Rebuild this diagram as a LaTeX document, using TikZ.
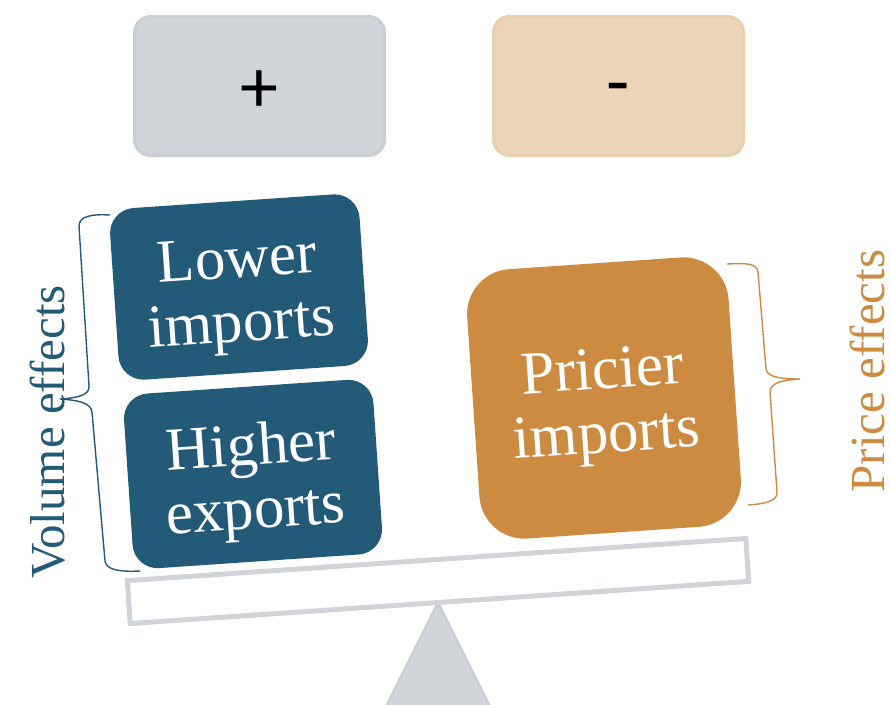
\documentclass[tikz,border=0pt]{standalone}
\usepackage{fontspec}
\setmainfont{Liberation Serif}
\newfontfamily\signfont{Carlito}
\definecolor{volblue}{HTML}{235A78}
\definecolor{priceorange}{HTML}{CD8B41}
\definecolor{plusfill}{HTML}{D0D4D9}
\definecolor{plusdraw}{HTML}{CACED3}
\definecolor{minusfill}{HTML}{ECD5B9}
\definecolor{minusdraw}{HTML}{E8CFAF}
\definecolor{beamgray}{HTML}{D0D4D9}
\newcommand{\lift}{\rule{0pt}{58pt}}
\begin{document}
\begin{tikzpicture}[x=1pt,y=-1pt,
  signbox/.style={rounded corners=16pt, minimum width=250pt, minimum height=139pt, line width=3pt, inner sep=0pt, text depth=0pt, font=\signfont\fontsize{76}{80}\selectfont},
  effectbox/.style={rotate=3.9, text=white, align=center, inner sep=0pt,
    font=\fontsize{61}{64}\selectfont},
  efflabel/.style={rotate=90, inner sep=0pt, font=\fontsize{49}{52}\selectfont},
  bracestyle/.style={line width=1.4pt}]
\useasboundingbox (0,0) rectangle (890,704);
\clip (0,0) rectangle (890,704);
% top sign boxes
\node[signbox, fill=plusfill, draw=plusdraw, text height=53pt] (plus) at (259.5,86) {+};
\node[signbox, fill=minusfill, draw=minusdraw, text height=42pt] (minus) at (618.5,86) {-};
% fulcrum and beam
\draw[fill=beamgray, draw=plusdraw, line width=2pt] (438,602) -- (369,740) -- (507,740) -- cycle;
\node[rotate=3.9, minimum width=620pt, minimum height=43pt, draw=beamgray, line width=5pt, fill=white, inner sep=0pt] (beam) at (438,581) {};
% effect boxes
\node[effectbox, fill=volblue, minimum width=250pt, minimum height=172pt, rounded corners=25pt] (lower) at (239,287) {\lift Lower\\imports};
\node[effectbox, fill=volblue, minimum width=250pt, minimum height=175pt, rounded corners=25pt] (higher) at (253,474) {\lift Higher\\exports};
\node[effectbox, fill=priceorange, minimum width=262pt, minimum height=270pt, rounded corners=45pt] (pricier) at (604,398) {\lift Pricier\\imports};
% braces
\draw[bracestyle, volblue] (110,215) .. controls (92,214) and (79,216) .. (79,226) -- (89,386) .. controls (90,396) and (75,398) .. (60,399) .. controls (75,400) and (91,402) .. (92,412) -- (105,561) .. controls (106,570) and (120,572) .. (140,571);
\draw[bracestyle, priceorange] (727,264) .. controls (745,263) and (757,263) .. (758,272) -- (766,369) .. controls (767,378) and (785,379) .. (800,379) .. controls (785,380) and (770,382) .. (770,392) -- (777,492) .. controls (778,502) and (762,504) .. (748,505);
% labels
\node[efflabel, text=volblue] (vol) at (48,432) {Volume effects};
\node[efflabel, text=priceorange] (price) at (867,371) {Price effects};
\end{tikzpicture}
\end{document}
